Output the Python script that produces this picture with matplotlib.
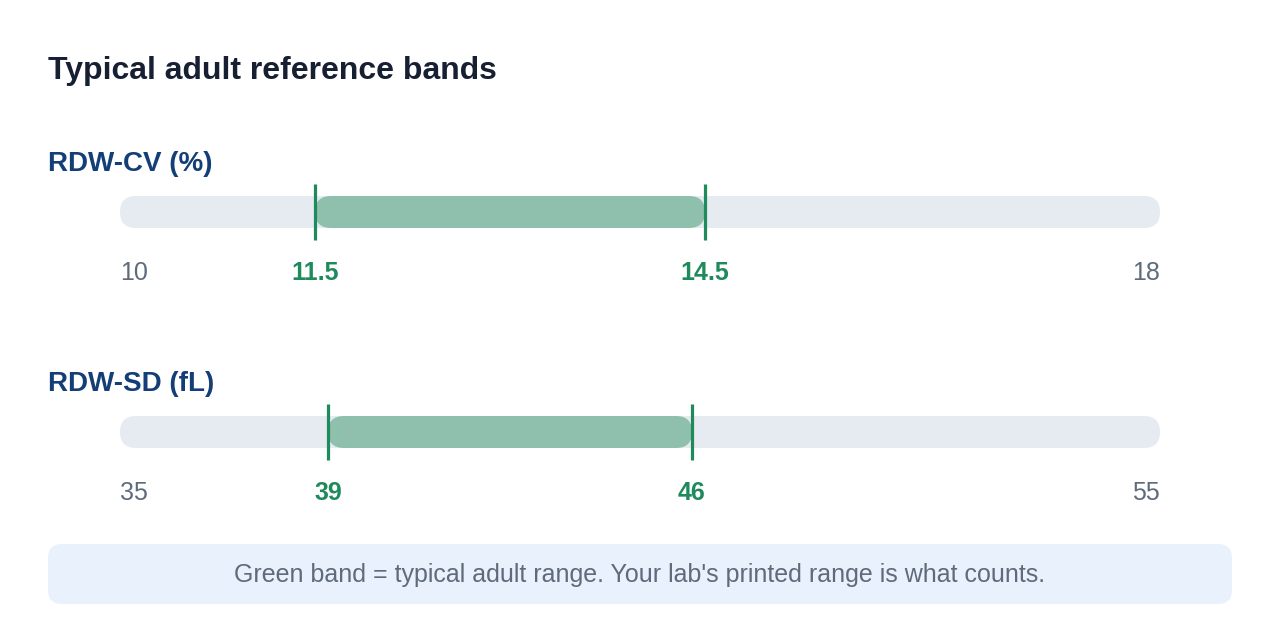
import matplotlib.pyplot as plt
from matplotlib.patches import FancyBboxPatch

plt.rcParams['font.family'] = ['Liberation Sans', 'DejaVu Sans']

# chart data
title = 'Typical adult reference bands'
row_labels = ['RDW-CV (%)', 'RDW-SD (fL)']
scale_min = [10, 35]
scale_max = [18, 55]
band_low = [11.5, 39]
band_high = [14.5, 46]
low_text = ['11.5', '39']
high_text = ['14.5', '46']
note = "Green band = typical adult range. Your lab's printed range is what counts."

TRACK = '#e6ebf2'
BAND = '#8fc0ad'
TICK = '#1f8a5b'
LABEL_BLUE = '#133f76'
GREY = '#5f6b7a'
DARK = '#172033'

W, H = 1280, 640
fig = plt.figure(figsize=(W / 100, H / 100), dpi=100)
fig.patch.set_facecolor('white')

# background axes in pixel units for title, row labels and the note box
bg = fig.add_axes([0, 0, 1, 1])
bg.set_xlim(0, W)
bg.set_ylim(H, 0)
bg.axis('off')

bg.text(48, 71, title, fontsize=23, fontweight='bold', color=DARK, va='center', ha='left')

note_box = FancyBboxPatch((48, 544), 1184, 60, boxstyle='round,pad=0,rounding_size=14',
                          facecolor='#e9f1fc', edgecolor='none')
bg.add_patch(note_box)
bg.text(640, 575, note, fontsize=18, color=GREY, ha='center', va='center')

track_left, track_right = 120, 1160
row_centers = [212, 432]
half_track = 16
ax_half = 40

for i in range(len(row_labels)):
    cy = row_centers[i]
    bg.text(48, cy - 48, row_labels[i], fontsize=20, fontweight='bold', color=LABEL_BLUE,
            ha='left', va='center')

    ax = fig.add_axes([track_left / W, 1 - (cy + ax_half) / H,
                       (track_right - track_left) / W, 2 * ax_half / H])
    lo, hi = scale_min[i], scale_max[i]
    ax.set_xlim(lo, hi)
    ax.set_ylim(-ax_half, ax_half)
    ax.axis('off')

    px_per_unit = (track_right - track_left) / (hi - lo)
    r = half_track / px_per_unit

    track = FancyBboxPatch((lo, -half_track), hi - lo, 2 * half_track,
                           boxstyle=f'round,pad=0,rounding_size={r}',
                           mutation_aspect=px_per_unit, facecolor=TRACK, edgecolor='none')
    ax.add_patch(track)

    band = FancyBboxPatch((band_low[i], -half_track), band_high[i] - band_low[i], 2 * half_track,
                          boxstyle=f'round,pad=0,rounding_size={r}',
                          mutation_aspect=px_per_unit, facecolor=BAND, edgecolor='none')
    ax.add_patch(band)

    for v in (band_low[i], band_high[i]):
        ax.plot([v, v], [-28, 28], color=TICK, lw=2.3, solid_capstyle='butt')

    ax.text(lo, -61, str(lo), fontsize=18, color=GREY, ha='left', va='center', clip_on=False)
    ax.text(hi, -61, str(hi), fontsize=18, color=GREY, ha='right', va='center', clip_on=False)
    ax.text(band_low[i], -61, low_text[i], fontsize=18, fontweight='bold', color=TICK,
            ha='center', va='center', clip_on=False)
    ax.text(band_high[i], -61, high_text[i], fontsize=18, fontweight='bold', color=TICK,
            ha='center', va='center', clip_on=False)

fig.savefig('out.png', dpi=100, facecolor='white')
